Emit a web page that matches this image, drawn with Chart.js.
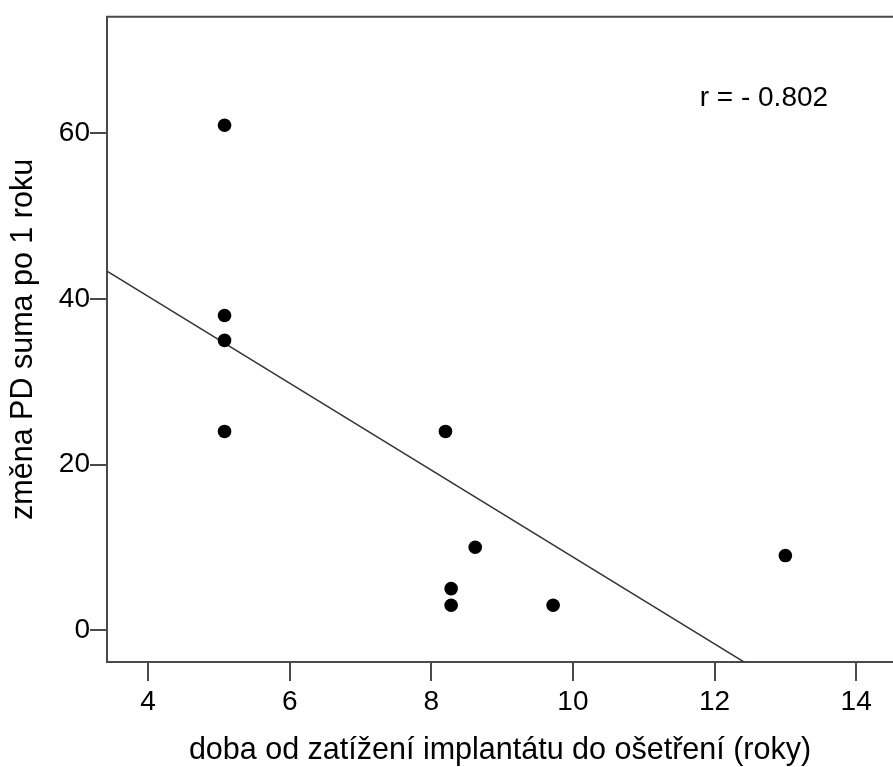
<!DOCTYPE html>
<html>
<head>
<meta charset="utf-8">
<script src="https://cdn.jsdelivr.net/npm/chart.js@4.4.0/dist/chart.umd.min.js"></script>
<style>
    html, body { margin: 0; padding: 0; background: #fff; }
    #wrap { width: 893px; height: 767px; }
</style>
</head>
<body>
<div id="wrap"><canvas id="chart" width="893" height="767"></canvas></div>
<script>
// data
const xYears = [5.08, 5.08, 5.08, 5.08, 8.2, 8.62, 8.28, 8.28, 9.72, 13.0];
const yChange = [61, 38, 35, 24, 24, 10, 5, 3, 3, 9];
const xTicks = [4, 6, 8, 10, 12, 14];
const yTicks = [0, 20, 40, 60];
const rLabel = 'r = - 0.802';

const X_MIN = 3.42, X_MAX = 14.52;
const Y_MIN = -3.86, Y_MAX = 74.1;

// least squares fit line
function fitLine(xs, ys) {
    const n = xs.length;
    const mx = xs.reduce((a, b) => a + b, 0) / n;
    const my = ys.reduce((a, b) => a + b, 0) / n;
    let sxy = 0, sxx = 0;
    for (let i = 0; i < n; i++) {
        sxy += (xs[i] - mx) * (ys[i] - my);
        sxx += (xs[i] - mx) ** 2;
    }
    const slope = sxy / sxx;
    return { slope, intercept: my - slope * mx };
}
const fit = fitLine(xYears, yChange);
const fitPoints = [X_MIN, X_MAX].map(x => ({ x, y: fit.intercept + fit.slope * x }));

const axisColor = '#4a4a4a';
const fontFamily = '"Liberation Sans", Arial, sans-serif';

// top frame line + r label
const framePlugin = {
    id: 'frame',
    afterDraw(chart) {
        const { ctx, chartArea, scales } = chart;
        ctx.save();
        ctx.strokeStyle = axisColor;
        ctx.lineWidth = 2;
        ctx.beginPath();
        ctx.moveTo(chartArea.left - 1, chartArea.top);
        ctx.lineTo(chartArea.right, chartArea.top);
        ctx.stroke();

        ctx.fillStyle = '#000';
        ctx.font = '28px ' + fontFamily;
        ctx.textAlign = 'left';
        ctx.textBaseline = 'middle';
        ctx.fillText(rLabel, scales.x.getPixelForValue(11.79), scales.y.getPixelForValue(64.2));
        ctx.restore();
    }
};

new Chart(document.getElementById('chart'), {
    type: 'scatter',
    data: {
        datasets: [{
            label: 'data',
            data: xYears.map((x, i) => ({ x, y: yChange[i] })),
            backgroundColor: '#000',
            borderColor: '#000',
            pointRadius: 6.8,
            pointBorderWidth: 0
        }, {
            label: 'fit',
            type: 'line',
            data: fitPoints,
            borderColor: '#333',
            borderWidth: 1.5,
            pointRadius: 0,
            fill: false
        }]
    },
    options: {
        responsive: false,
        animation: false,
        layout: { autoPadding: false, padding: { top: 14, right: 0, left: 0, bottom: 0 } },
        plugins: {
            legend: { display: false },
            tooltip: { enabled: false }
        },
        scales: {
            x: {
                type: 'linear',
                min: X_MIN,
                max: X_MAX,
                afterBuildTicks: (s) => { s.ticks = xTicks.map(v => ({ value: v })); },
                afterFit: (s) => { s.height = 105; },
                grid: { drawOnChartArea: false, color: axisColor, lineWidth: 2, tickLength: 19 },
                border: { color: axisColor, width: 2 },
                ticks: { color: '#000', font: { family: fontFamily, size: 28 }, padding: 4, maxRotation: 0 },
                title: {
                    display: true,
                    text: 'doba od zatížení implantátu do ošetření (roky)',
                    color: '#000',
                    font: { family: fontFamily, size: 30.5 },
                    padding: { top: 0, bottom: -2 }
                }
            },
            y: {
                type: 'linear',
                min: Y_MIN,
                max: Y_MAX,
                afterBuildTicks: (s) => { s.ticks = yTicks.map(v => ({ value: v })); },
                afterFit: (s) => { s.width = 107; },
                grid: { drawOnChartArea: false, color: axisColor, lineWidth: 2, tickLength: 17 },
                border: { color: axisColor, width: 2 },
                ticks: { color: '#000', font: { family: fontFamily, size: 28 }, padding: 0 },
                title: {
                    display: true,
                    text: 'změna PD suma po 1 roku',
                    color: '#000',
                    font: { family: fontFamily, size: 30.5 },
                    padding: { top: 5, bottom: 0 }
                }
            }
        }
    },
    plugins: [framePlugin]
});
</script>
</body>
</html>
